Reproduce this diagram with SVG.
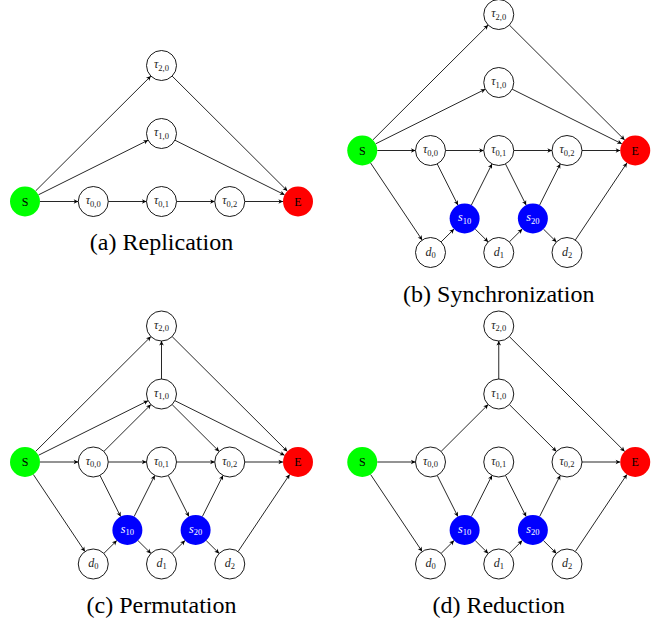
<svg xmlns="http://www.w3.org/2000/svg" width="665" height="622" viewBox="0 0 665 622">
<defs>
<marker id="arr" markerUnits="userSpaceOnUse" markerWidth="8" markerHeight="8" refX="0" refY="0" orient="auto" overflow="visible">
<path d="M0,0 L-4.6,-2.3 L-3.3,0 L-4.6,2.3 z" fill="#000"/>
</marker>
</defs>
<style>
.e{stroke:#000;stroke-width:0.85;fill:none;marker-end:url(#arr)}
.n{fill:#fff;stroke:#000;stroke-width:0.9}
.start{fill:#00ff00}
.end{fill:#ff0000}
.sync{fill:#0000ff}
.lb{font-family:"Liberation Serif","DejaVu Serif",serif;font-size:12px;font-style:italic;fill:#222;text-anchor:middle}
.sub{font-size:8.5px;font-style:normal}
.sl{fill:#ffffff}
.se{font-family:"Liberation Serif","DejaVu Serif",serif;font-size:12px;fill:#000;text-anchor:middle}
.cap{font-family:"Liberation Serif","Times New Roman",serif;font-size:24px;fill:#000;text-anchor:middle}
</style>

<!-- Panel (a) Replication -->
<g id="panel-a" transform="translate(25,201.5)">
<g id="a-connectors">
<path class="e" d="M10.63,-10.59 L125.87,-125.41"/>
<path class="e" d="M13.43,-6.69 L123.07,-61.31"/>
<path class="e" d="M15,0 L53.25,0"/>
<path class="e" d="M83.25,0 L121.5,0"/>
<path class="e" d="M151.5,0 L189.75,0"/>
<path class="e" d="M219.75,0 L258,0"/>
<path class="e" d="M149.93,-61.31 L259.57,-6.69"/>
<path class="e" d="M147.13,-125.41 L262.37,-10.59"/>
</g>
<g id="a-S"><circle class="start" cx="0" cy="0" r="15"/><text class="se" x="0" y="4">S</text></g>
<g id="a-t00"><circle class="n" cx="68.25" cy="0" r="15"/><text class="lb" x="68.25" y="2.5">τ<tspan class="sub" dy="2.5">0,0</tspan></text></g>
<g id="a-t01"><circle class="n" cx="136.5" cy="0" r="15"/><text class="lb" x="136.5" y="2.5">τ<tspan class="sub" dy="2.5">0,1</tspan></text></g>
<g id="a-t02"><circle class="n" cx="204.75" cy="0" r="15"/><text class="lb" x="204.75" y="2.5">τ<tspan class="sub" dy="2.5">0,2</tspan></text></g>
<g id="a-t10"><circle class="n" cx="136.5" cy="-68" r="15"/><text class="lb" x="136.5" y="-65.5">τ<tspan class="sub" dy="2.5">1,0</tspan></text></g>
<g id="a-t20"><circle class="n" cx="136.5" cy="-136" r="15"/><text class="lb" x="136.5" y="-133.5">τ<tspan class="sub" dy="2.5">2,0</tspan></text></g>
<g id="a-E"><circle class="end" cx="273" cy="0" r="15"/><text class="se" x="273" y="4">E</text></g>
</g>
<text class="cap" x="161.5" y="250">(a) Replication</text>

<!-- Panel (b) Synchronization -->
<g id="panel-b" transform="translate(362.25,150.5)">
<g id="b-connectors">
<path class="e" d="M10.63,-10.59 L125.87,-125.41"/>
<path class="e" d="M13.43,-6.69 L123.07,-61.31"/>
<path class="e" d="M15,0 L53.25,0"/>
<path class="e" d="M8.34,12.47 L59.91,89.53"/>
<path class="e" d="M83.25,0 L121.5,0"/>
<path class="e" d="M151.5,0 L189.75,0"/>
<path class="e" d="M219.75,0 L258,0"/>
<path class="e" d="M149.93,-61.31 L259.57,-6.69"/>
<path class="e" d="M147.13,-125.41 L262.37,-10.59"/>
<path class="e" d="M74.98,13.41 L95.65,54.59"/>
<path class="e" d="M78.86,91.39 L91.77,78.61"/>
<path class="e" d="M109.11,54.59 L129.77,13.41"/>
<path class="e" d="M112.99,78.61 L125.89,91.39"/>
<path class="e" d="M143.23,13.41 L163.89,54.59"/>
<path class="e" d="M147.11,91.39 L160.01,78.61"/>
<path class="e" d="M177.35,54.59 L198.02,13.41"/>
<path class="e" d="M181.23,78.61 L194.14,91.39"/>
<path class="e" d="M213.09,89.53 L264.66,12.47"/>
</g>
<g id="b-S"><circle class="start" cx="0" cy="0" r="15"/><text class="se" x="0" y="4">S</text></g>
<g id="b-t00"><circle class="n" cx="68.25" cy="0" r="15"/><text class="lb" x="68.25" y="2.5">τ<tspan class="sub" dy="2.5">0,0</tspan></text></g>
<g id="b-t01"><circle class="n" cx="136.5" cy="0" r="15"/><text class="lb" x="136.5" y="2.5">τ<tspan class="sub" dy="2.5">0,1</tspan></text></g>
<g id="b-t02"><circle class="n" cx="204.75" cy="0" r="15"/><text class="lb" x="204.75" y="2.5">τ<tspan class="sub" dy="2.5">0,2</tspan></text></g>
<g id="b-t10"><circle class="n" cx="136.5" cy="-68" r="15"/><text class="lb" x="136.5" y="-65.5">τ<tspan class="sub" dy="2.5">1,0</tspan></text></g>
<g id="b-t20"><circle class="n" cx="136.5" cy="-136" r="15"/><text class="lb" x="136.5" y="-133.5">τ<tspan class="sub" dy="2.5">2,0</tspan></text></g>
<g id="b-s10"><circle class="sync" cx="102.38" cy="68" r="15"/><text class="lb sl" x="102.38" y="70.5">s<tspan class="sub" dy="2.5">10</tspan></text></g>
<g id="b-s20"><circle class="sync" cx="170.62" cy="68" r="15"/><text class="lb sl" x="170.62" y="70.5">s<tspan class="sub" dy="2.5">20</tspan></text></g>
<g id="b-d0"><circle class="n" cx="68.25" cy="102" r="15"/><text class="lb" x="68.25" y="105">d<tspan class="sub" dy="2">0</tspan></text></g>
<g id="b-d1"><circle class="n" cx="136.5" cy="102" r="15"/><text class="lb" x="136.5" y="105">d<tspan class="sub" dy="2">1</tspan></text></g>
<g id="b-d2"><circle class="n" cx="204.75" cy="102" r="15"/><text class="lb" x="204.75" y="105">d<tspan class="sub" dy="2">2</tspan></text></g>
<g id="b-E"><circle class="end" cx="273" cy="0" r="15"/><text class="se" x="273" y="4">E</text></g>
</g>
<text class="cap" x="498.75" y="301.5">(b) Synchronization</text>

<!-- Panel (c) Permutation -->
<g id="panel-c" transform="translate(25,462)">
<g id="c-connectors">
<path class="e" d="M10.63,-10.59 L125.87,-125.41"/>
<path class="e" d="M13.43,-6.69 L123.07,-61.31"/>
<path class="e" d="M15,0 L53.25,0"/>
<path class="e" d="M8.34,12.47 L59.91,89.53"/>
<path class="e" d="M83.25,0 L121.5,0"/>
<path class="e" d="M151.5,0 L189.75,0"/>
<path class="e" d="M219.75,0 L258,0"/>
<path class="e" d="M149.93,-61.31 L259.57,-6.69"/>
<path class="e" d="M147.13,-125.41 L262.37,-10.59"/>
<path class="e" d="M74.98,13.41 L95.65,54.59"/>
<path class="e" d="M78.86,91.39 L91.77,78.61"/>
<path class="e" d="M109.11,54.59 L129.77,13.41"/>
<path class="e" d="M112.99,78.61 L125.89,91.39"/>
<path class="e" d="M143.23,13.41 L163.89,54.59"/>
<path class="e" d="M147.11,91.39 L160.01,78.61"/>
<path class="e" d="M177.35,54.59 L198.02,13.41"/>
<path class="e" d="M181.23,78.61 L194.14,91.39"/>
<path class="e" d="M213.09,89.53 L264.66,12.47"/>
<path class="e" d="M136.5,-83 L136.5,-121"/>
<path class="e" d="M78.88,-10.59 L125.87,-57.41"/>
<path class="e" d="M147.13,-57.41 L194.12,-10.59"/>
</g>
<g id="c-S"><circle class="start" cx="0" cy="0" r="15"/><text class="se" x="0" y="4">S</text></g>
<g id="c-t00"><circle class="n" cx="68.25" cy="0" r="15"/><text class="lb" x="68.25" y="2.5">τ<tspan class="sub" dy="2.5">0,0</tspan></text></g>
<g id="c-t01"><circle class="n" cx="136.5" cy="0" r="15"/><text class="lb" x="136.5" y="2.5">τ<tspan class="sub" dy="2.5">0,1</tspan></text></g>
<g id="c-t02"><circle class="n" cx="204.75" cy="0" r="15"/><text class="lb" x="204.75" y="2.5">τ<tspan class="sub" dy="2.5">0,2</tspan></text></g>
<g id="c-t10"><circle class="n" cx="136.5" cy="-68" r="15"/><text class="lb" x="136.5" y="-65.5">τ<tspan class="sub" dy="2.5">1,0</tspan></text></g>
<g id="c-t20"><circle class="n" cx="136.5" cy="-136" r="15"/><text class="lb" x="136.5" y="-133.5">τ<tspan class="sub" dy="2.5">2,0</tspan></text></g>
<g id="c-s10"><circle class="sync" cx="102.38" cy="68" r="15"/><text class="lb sl" x="102.38" y="70.5">s<tspan class="sub" dy="2.5">10</tspan></text></g>
<g id="c-s20"><circle class="sync" cx="170.62" cy="68" r="15"/><text class="lb sl" x="170.62" y="70.5">s<tspan class="sub" dy="2.5">20</tspan></text></g>
<g id="c-d0"><circle class="n" cx="68.25" cy="102" r="15"/><text class="lb" x="68.25" y="105">d<tspan class="sub" dy="2">0</tspan></text></g>
<g id="c-d1"><circle class="n" cx="136.5" cy="102" r="15"/><text class="lb" x="136.5" y="105">d<tspan class="sub" dy="2">1</tspan></text></g>
<g id="c-d2"><circle class="n" cx="204.75" cy="102" r="15"/><text class="lb" x="204.75" y="105">d<tspan class="sub" dy="2">2</tspan></text></g>
<g id="c-E"><circle class="end" cx="273" cy="0" r="15"/><text class="se" x="273" y="4">E</text></g>
</g>
<text class="cap" x="161.5" y="613">(c) Permutation</text>

<!-- Panel (d) Reduction -->
<g id="panel-d" transform="translate(362.25,462)">
<g id="d-connectors">
<path class="e" d="M15,0 L53.25,0"/>
<path class="e" d="M8.34,12.47 L59.91,89.53"/>
<path class="e" d="M219.75,0 L258,0"/>
<path class="e" d="M147.13,-125.41 L262.37,-10.59"/>
<path class="e" d="M74.98,13.41 L95.65,54.59"/>
<path class="e" d="M78.86,91.39 L91.77,78.61"/>
<path class="e" d="M109.11,54.59 L129.77,13.41"/>
<path class="e" d="M112.99,78.61 L125.89,91.39"/>
<path class="e" d="M143.23,13.41 L163.89,54.59"/>
<path class="e" d="M147.11,91.39 L160.01,78.61"/>
<path class="e" d="M177.35,54.59 L198.02,13.41"/>
<path class="e" d="M181.23,78.61 L194.14,91.39"/>
<path class="e" d="M213.09,89.53 L264.66,12.47"/>
<path class="e" d="M136.5,-83 L136.5,-121"/>
<path class="e" d="M78.88,-10.59 L125.87,-57.41"/>
<path class="e" d="M147.13,-57.41 L194.12,-10.59"/>
</g>
<g id="d-S"><circle class="start" cx="0" cy="0" r="15"/><text class="se" x="0" y="4">S</text></g>
<g id="d-t00"><circle class="n" cx="68.25" cy="0" r="15"/><text class="lb" x="68.25" y="2.5">τ<tspan class="sub" dy="2.5">0,0</tspan></text></g>
<g id="d-t01"><circle class="n" cx="136.5" cy="0" r="15"/><text class="lb" x="136.5" y="2.5">τ<tspan class="sub" dy="2.5">0,1</tspan></text></g>
<g id="d-t02"><circle class="n" cx="204.75" cy="0" r="15"/><text class="lb" x="204.75" y="2.5">τ<tspan class="sub" dy="2.5">0,2</tspan></text></g>
<g id="d-t10"><circle class="n" cx="136.5" cy="-68" r="15"/><text class="lb" x="136.5" y="-65.5">τ<tspan class="sub" dy="2.5">1,0</tspan></text></g>
<g id="d-t20"><circle class="n" cx="136.5" cy="-136" r="15"/><text class="lb" x="136.5" y="-133.5">τ<tspan class="sub" dy="2.5">2,0</tspan></text></g>
<g id="d-s10"><circle class="sync" cx="102.38" cy="68" r="15"/><text class="lb sl" x="102.38" y="70.5">s<tspan class="sub" dy="2.5">10</tspan></text></g>
<g id="d-s20"><circle class="sync" cx="170.62" cy="68" r="15"/><text class="lb sl" x="170.62" y="70.5">s<tspan class="sub" dy="2.5">20</tspan></text></g>
<g id="d-d0"><circle class="n" cx="68.25" cy="102" r="15"/><text class="lb" x="68.25" y="105">d<tspan class="sub" dy="2">0</tspan></text></g>
<g id="d-d1"><circle class="n" cx="136.5" cy="102" r="15"/><text class="lb" x="136.5" y="105">d<tspan class="sub" dy="2">1</tspan></text></g>
<g id="d-d2"><circle class="n" cx="204.75" cy="102" r="15"/><text class="lb" x="204.75" y="105">d<tspan class="sub" dy="2">2</tspan></text></g>
<g id="d-E"><circle class="end" cx="273" cy="0" r="15"/><text class="se" x="273" y="4">E</text></g>
</g>
<text class="cap" x="498.75" y="613">(d) Reduction</text>
</svg>
